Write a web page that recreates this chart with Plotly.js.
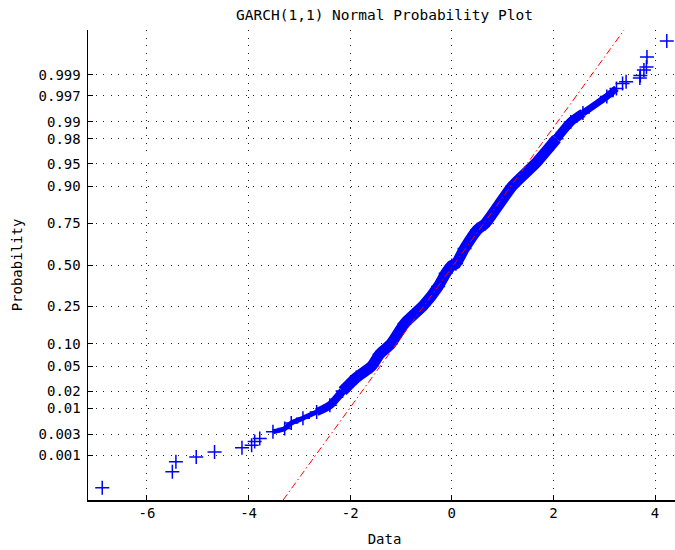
<!DOCTYPE html>
<html>
<head>
<meta charset="utf-8">
<script src="https://cdn.plot.ly/plotly-3.0.1.min.js"></script>
<style>
  html, body { margin: 0; padding: 0; overflow: hidden; background: #fff; }
  #chart { width: 681px; height: 550px; }
</style>
</head>
<body>
<div id="chart"></div>
<script>
// Sample quantiles (Data)
const dataX = [-6.88, -5.50, -5.43, -5.03, -4.67, -4.13, -3.94, -3.88, -3.78, -3.52,
               -3.29, -3.16, -2.93, -2.66, -2.40, -2.15, -1.88, -1.58, -1.42, -1.20,
               -0.93, -0.56, -0.27, -0.12, 0.00, 0.08, 0.25, 0.50, 0.66, 1.19,
               1.64, 2.06, 2.34, 2.58, 3.05, 3.24, 3.36, 3.43, 3.70, 3.71,
               3.78, 3.83, 3.84, 4.23];
const dataP = [0.000147, 0.00039, 0.000687, 0.000904, 0.00118, 0.00149, 0.00170, 0.00205, 0.00240, 0.00336,
               0.00391, 0.00509, 0.00639, 0.00842, 0.0113, 0.0202, 0.0336, 0.050, 0.0735, 0.100,
               0.171, 0.255, 0.363, 0.446, 0.497, 0.508, 0.606, 0.716, 0.750, 0.900,
               0.950, 0.980, 0.990, 0.99324, 0.99693, 0.99795, 0.99841, 0.99856, 0.99882, 0.99897,
               0.99924, 0.99936, 0.99964, 0.999864];
// Reference line (red dash-dot) end points
const refX = [-3.32, 3.39];
const refP = [0.0000667, 0.9999333];
// Axis limits and ticks
const yLimP = [0.0000667, 0.9999333];
const xLim = [-7.16, 4.51];
const probTicks = [0.001, 0.003, 0.01, 0.02, 0.05, 0.10, 0.25, 0.50, 0.75, 0.90, 0.95, 0.98, 0.99, 0.997, 0.999];
const probLabels = ['0.001', '0.003', '0.01', '0.02', '0.05', '0.10', '0.25', '0.50', '0.75', '0.90', '0.95', '0.98', '0.99', '0.997', '0.999'];
const xTicks = [-6, -4, -2, 0, 2, 4];
const xLabels = ['-6', '-4', '-2', '0', '2', '4'];

// Normal quantile (probit) for the probability axis
function norminv(p) {
  const a = [-3.969683028665376e+01, 2.209460984245205e+02, -2.759285104469687e+02, 1.383577518672690e+02, -3.066479806614716e+01, 2.506628277459239e+00];
  const b = [-5.447609879822406e+01, 1.615858368580409e+02, -1.556989798598866e+02, 6.680131188771972e+01, -1.328068155288572e+01];
  const c = [-7.784894002430293e-03, -3.223964580411365e-01, -2.400758277161838e+00, -2.549732539343734e+00, 4.374664141464968e+00, 2.938163982698783e+00];
  const d = [7.784695709041462e-03, 3.224671290700398e-01, 2.445134137142996e+00, 3.754408661907416e+00];
  const plow = 0.02425, phigh = 1 - plow;
  let q, r;
  if (p < plow) {
    q = Math.sqrt(-2 * Math.log(p));
    return (((((c[0]*q + c[1])*q + c[2])*q + c[3])*q + c[4])*q + c[5]) / ((((d[0]*q + d[1])*q + d[2])*q + d[3])*q + 1);
  } else if (p <= phigh) {
    q = p - 0.5; r = q*q;
    return (((((a[0]*r + a[1])*r + a[2])*r + a[3])*r + a[4])*r + a[5])*q / (((((b[0]*r + b[1])*r + b[2])*r + b[3])*r + b[4])*r + 1);
  } else {
    q = Math.sqrt(-2 * Math.log(1 - p));
    return -(((((c[0]*q + c[1])*q + c[2])*q + c[3])*q + c[4])*q + c[5]) / ((((d[0]*q + d[1])*q + d[2])*q + d[3])*q + 1);
  }
}

const dataZ = dataP.map(norminv);
function subset(lo, hi) {
  const idx = dataX.map((v, i) => i).filter(i => dataX[i] >= lo && dataX[i] <= hi);
  return { x: idx.map(i => dataX[i]), y: idx.map(i => dataZ[i]) };
}

const FONT = 'DejaVu Sans Mono, Liberation Mono, monospace';
const blue = '#0000ff';

function band(lo, hi, w) {
  const s = subset(lo, hi);
  return {
    x: s.x, y: s.y, type: 'scatter', mode: 'lines',
    line: { color: blue, width: w, shape: 'spline', smoothing: 0.6 },
    hoverinfo: 'skip', showlegend: false
  };
}

// dense part of the sample: thick in the middle, thinner chain towards the ends
const traces = [
  band(-3.53, -2.65, 5),
  band(-2.67, -2.14, 8),
  band(-2.16, 2.07, 11),
  band(2.05, 2.59, 9),
  band(2.57, 3.25, 7),
  {
    x: dataX, y: dataZ, type: 'scatter', mode: 'markers',
    marker: { symbol: 'cross-thin', size: 10, color: blue, line: { color: blue, width: 1.5 } },
    hoverinfo: 'skip', showlegend: false
  },
  {
    x: refX, y: refP.map(norminv), type: 'scatter', mode: 'lines',
    line: { color: '#ff0000', width: 1, dash: '7px,3px,1.5px,3px' },
    hoverinfo: 'skip', showlegend: false
  }
];

const layout = {
  width: 681, height: 550,
  margin: { l: 88, r: 0, t: 30, b: 50 },
  paper_bgcolor: '#ffffff', plot_bgcolor: '#ffffff',
  font: { family: FONT, size: 14, color: '#000' },
  showlegend: false,
  title: {
    text: 'GARCH(1,1) Normal Probability Plot',
    font: { family: FONT, size: 14.5, color: '#000' },
    x: 0.5, xref: 'paper', y: 15, yref: 'container', yanchor: 'middle'
  },
  xaxis: {
    range: xLim, tickvals: xTicks, ticktext: xLabels,
    showline: true, linecolor: '#000', linewidth: 1.5,
    ticks: 'inside', ticklen: 5, tickwidth: 1, tickcolor: '#000',
    showgrid: true, gridcolor: '#222', gridwidth: 1, griddash: '1px,6.5px',
    zeroline: false, mirror: false,
    tickfont: { family: FONT, size: 14, color: '#000' },
    title: { text: 'Data', font: { family: FONT, size: 14, color: '#000' }, standoff: 14 }
  },
  yaxis: {
    range: yLimP.map(norminv),
    tickvals: probTicks.map(norminv), ticktext: probLabels,
    showline: true, linecolor: '#000', linewidth: 1.5,
    ticks: 'inside', ticklen: 5, tickwidth: 1, tickcolor: '#000',
    showgrid: true, gridcolor: '#222', gridwidth: 1, griddash: '1px,6.5px',
    zeroline: false, mirror: false,
    tickfont: { family: FONT, size: 14, color: '#000' },
    ticklabelstandoff: 3,
    title: { text: 'Probability', font: { family: FONT, size: 14, color: '#000' }, standoff: 12 }
  }
};

Plotly.newPlot('chart', traces, layout, { displayModeBar: false, staticPlot: true });
</script>
</body>
</html>
